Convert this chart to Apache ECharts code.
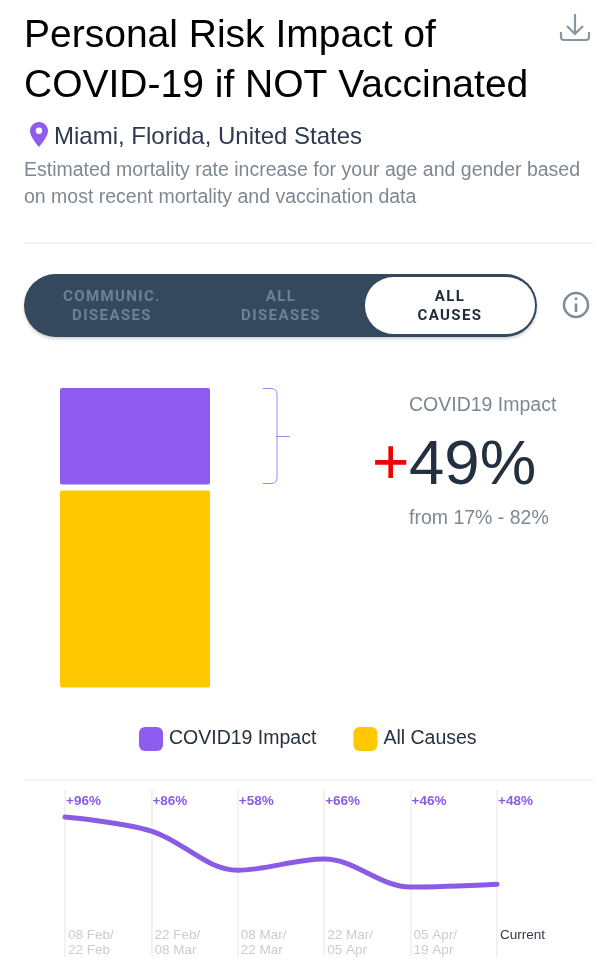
<!DOCTYPE html>
<html><head><meta charset="utf-8">
<style>html,body{margin:0;padding:0;background:#fff}#c{width:610px;height:970px}
.b{position:absolute;width:170px;text-align:center;top:287px;font:bold 15px/19px Roboto;letter-spacing:1.4px;color:#6e8294}</style>
<script src="https://cdn.jsdelivr.net/npm/echarts@6/dist/echarts.min.js"></script>
</head><body><div id="c"></div>
<div class="b" style="left:27px">COMMUNIC.<br>DISEASES</div>
<div class="b" style="left:196px">ALL<br>DISEASES</div>
<div class="b" style="left:365px;color:#1f2a36">ALL<br>CAUSES</div>
<script>
const covidImpact = [49];
const allCauses = [100];
const barGap = [3];
const periods = ['08 Feb/\n22 Feb','22 Feb/\n08 Mar','08 Mar/\n22 Mar','22 Mar/\n05 Apr','05 Apr/\n19 Apr','Current\n '];
const trend = [96,86,58,66,46,48];
const PURPLE='#8f5cf2', YELLOW='#ffc800', F='"Liberation Sans"', NAVY='#34495e';
const G=echarts.graphic;
G.registerShape('pinIcon',G.extendPath('M39 122c-5 0-9 4-9 9 0 6 9 16 9 16s9-10 9-16c0-5-4-9-9-9zm0 12a3.2 3.2 0 1 1 0-6.4 3.2 3.2 0 0 1 0 6.4z',{}));
G.registerShape('dlIcon',G.extendPath('M575 14V33M567 26L575 34L583 26M561 32V37Q561 40 564 40H586Q589 40 589 37V32',{}));
G.registerShape('infoIcon',G.extendPath('M576 303.5V312M576 297.5V300',{}));
G.registerShape('braceIcon',G.extendPath('M263 388.5H271Q277 388.5 277 394.5V477.5Q277 483.5 271 483.5H263M276 436.5H290',{}));
const chart = echarts.init(document.getElementById('c'),null,{renderer:'canvas'});
const txt=(x,y,text,size,fill,extra)=>({type:'text',x,y,silent:true,style:Object.assign({text,fill,font:`${size}px ${F}`,verticalAlign:'middle'},extra||{})});
chart.setOption({
  animation:false,
  textStyle:{fontFamily:F},
  legend:{data:['COVID19 Impact','All Causes'],left:139,top:727,padding:0,itemWidth:24,itemHeight:24,itemGap:37,icon:'roundRect',
    textStyle:{fontSize:19.5,color:'#26323f',fontFamily:F,padding:[0,0,0,1]},selectedMode:false},
  grid:[
    {left:60,width:150,top:388,height:299.4},
    {left:65,right:113,top:790,height:167}
  ],
  xAxis:[
    {gridIndex:0,type:'category',data:[''],show:false},
    {gridIndex:1,type:'category',data:periods,boundaryGap:false,position:'bottom',
      axisLine:{show:false},axisTick:{show:false},
      splitLine:{show:true,interval:0,lineStyle:{color:'#eeeef0',width:1.5}},
      axisLabel:{inside:true,interval:0,align:'left',verticalAlign:'bottom',margin:-1,fontSize:13.5,lineHeight:15,padding:[0,0,0,3],hideOverlap:false,showMaxLabel:true,showMinLabel:true,
        color:(v)=>v.startsWith('Current')?'#333a44':'#cccccc'}},
    {gridIndex:1,type:'category',data:trend.map(v=>'+'+v+'%'),boundaryGap:false,position:'top',
      axisLine:{show:false},axisTick:{show:false},splitLine:{show:false},
      axisLabel:{inside:true,interval:0,align:'left',verticalAlign:'top',margin:3,fontSize:13.5,fontWeight:'bold',color:'#8a5ce6',padding:[1,0,0,1],showMaxLabel:true,showMinLabel:true}}
  ],
  yAxis:[
    {gridIndex:0,type:'value',min:0,max:152,show:false},
    {gridIndex:1,type:'value',min:-4,max:115.3,show:false}
  ],
  series:[
    {name:'All Causes',type:'bar',stack:'a',xAxisIndex:0,yAxisIndex:0,barWidth:150,data:allCauses,itemStyle:{color:YELLOW,borderRadius:2}},
    {name:'gap',type:'bar',stack:'a',xAxisIndex:0,yAxisIndex:0,barWidth:150,data:barGap,itemStyle:{color:'transparent'},silent:true},
    {name:'COVID19 Impact',type:'bar',stack:'a',xAxisIndex:0,yAxisIndex:0,barWidth:150,data:covidImpact,itemStyle:{color:PURPLE,borderRadius:2}},
    {name:'trend',type:'line',xAxisIndex:1,yAxisIndex:1,data:trend,smooth:0.35,symbol:'none',lineStyle:{color:'#8a5ce6',width:5,cap:'round'}}
  ],
  graphic:[
    txt(24,36,'Personal Risk Impact of',39,'#000'),
    txt(24,86,'COVID-19 if NOT Vaccinated',39,'#000'),
    txt(54,137,'Miami, Florida, United States',24,'#2d3a4f'),
    txt(24,171,'Estimated mortality rate increase for your age and gender based',19.5,'#7f8790'),
    txt(24,198,'on most recent mortality and vaccination data',19.5,'#7f8790'),
    {type:'pinIcon',silent:true,style:{fill:PURPLE}},
    {type:'dlIcon',silent:true,style:{fill:'none',stroke:'#8a97a0',lineWidth:2.2}},
    {type:'line',silent:true,shape:{x1:24,y1:243,x2:593,y2:243},style:{stroke:'#e8e8e8',lineWidth:1.2}},
    {type:'line',silent:true,shape:{x1:24,y1:780,x2:593,y2:780},style:{stroke:'#e8e8e8',lineWidth:1.2}},
    {type:'rect',silent:true,shape:{x:24,y:274,width:513,height:63,r:31.5},style:{fill:NAVY,shadowBlur:3,shadowColor:'rgba(0,0,0,0.18)',shadowOffsetY:2}},
    {type:'rect',silent:true,shape:{x:365,y:277,width:170,height:57,r:28.5},style:{fill:'#fff'}},
    {type:'circle',silent:true,shape:{cx:576,cy:305,r:12},style:{fill:'none',stroke:'#7f8c96',lineWidth:2.5}},
    {type:'infoIcon',silent:true,style:{fill:'none',stroke:'#7f8c96',lineWidth:2.6}},
    {type:'braceIcon',silent:true,style:{fill:'none',stroke:'#a585ea',lineWidth:1}},
    txt(409,406,'COVID19 Impact',19.5,'#7f8790'),
    txt(372,466,'+',64,'#f00000'),
    txt(409,466,'49%',63.5,'#223040'),
    txt(409,519,'from 17% - 82%',19.5,'#7f8790')
  ]
});
</script></body></html>
